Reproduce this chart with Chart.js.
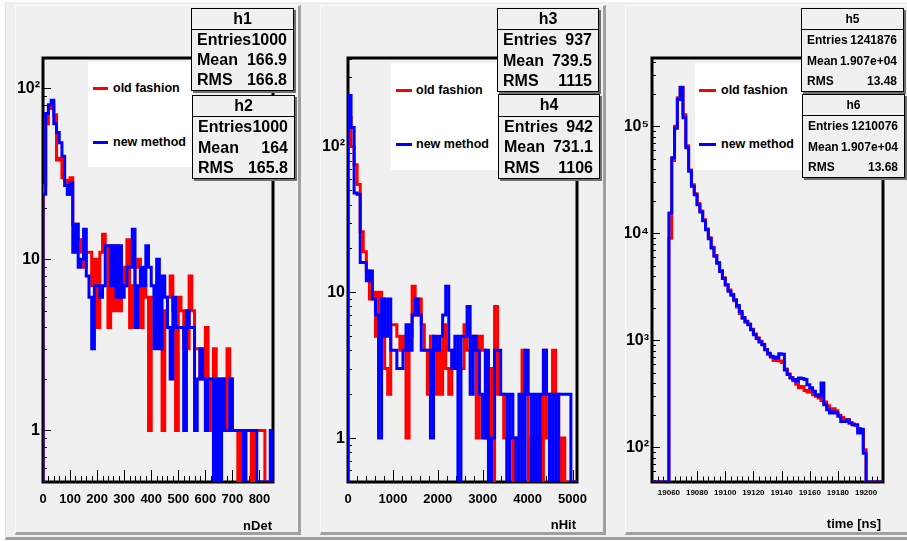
<!DOCTYPE html>
<html lang="en">
<head>
<meta charset="UTF-8">
<title>old fashion vs new method</title>
<script src="https://cdn.jsdelivr.net/npm/chart.js@4"></script>
<style>
    body {
        margin: 0;
        width: 907px;
        height: 541px;
        overflow: hidden;
        position: relative;
        background: #fff;
        font-family: "Liberation Sans", Arial, sans-serif;
        font-weight: bold;
    }
    .outer {
        position: absolute;
        left: 5px; top: 2px;
        width: 910px; height: 538px;
        box-sizing: border-box;
        background: #f0f0f0;
        border-bottom: 3px solid #a0a0a0;
        border-left: 1px solid #e4e4e4;
    }
    .pad {
        position: absolute;
        top: 5px;
        height: 530px;
        box-sizing: border-box;
        background: #f0f0f0;
        border-top: 1px solid #fafafa;
        border-left: 1px solid #fafafa;
        border-right: 3px solid #a0a0a0;
        border-bottom: 3px solid #a0a0a0;
    }
    canvas { position: absolute; top: 0; }
    .legend {
        position: absolute;
        background: #fff;
    }
    .legend .ln {
        position: absolute;
        height: 3px;
    }
    .legend .tx {
        position: absolute;
        font-size: 12.5px;
        line-height: 16px;
        white-space: nowrap;
    }
    .stats {
        position: absolute;
        box-sizing: border-box;
        background: #f0f0f0;
        border: 1px solid #000;
        box-shadow: 2px 2px 0 #707070;
        display: flex;
        flex-direction: column;
        font-size: 16px;
    }
    .stats.small { font-size: 12px; }
    .stats div { flex: 1; display: flex; align-items: center; }
    .stats .t { justify-content: center; border-bottom: 1px solid #000; }
    .stats .r { justify-content: space-between; padding: 0 6px 0 5px; white-space: nowrap; }
    .axtitle {
        position: absolute;
        font-size: 13px;
        line-height: 16px;
        white-space: nowrap;
    }
</style>
</head>
<body>
    <div class="outer"></div>
    <div class="pad" style="left:15px;width:286px"></div>
    <div class="pad" style="left:320px;width:286px"></div>
    <div class="pad" style="left:625px;width:290px"></div>

    <canvas id="cDet" width="286" height="541" style="left:15px"></canvas>
    <canvas id="cHit" width="286" height="541" style="left:320px"></canvas>
    <canvas id="cTime" width="282" height="541" style="left:625px"></canvas>

    <!-- legends -->
    <div class="legend" style="left:88px;top:62px;width:105px;height:105px">
        <div class="ln" style="left:5px;top:25px;width:15px;background:#f00"></div>
        <div class="tx" style="left:25px;top:18px">old fashion</div>
        <div class="ln" style="left:5px;top:79px;width:15px;background:#00f"></div>
        <div class="tx" style="left:25px;top:72px">new method</div>
    </div>
    <div class="legend" style="left:391px;top:63px;width:107px;height:107px">
        <div class="ln" style="left:5px;top:26px;width:16px;background:#f00"></div>
        <div class="tx" style="left:25px;top:19px">old fashion</div>
        <div class="ln" style="left:5px;top:80px;width:16px;background:#00f"></div>
        <div class="tx" style="left:25px;top:73px">new method</div>
    </div>
    <div class="legend" style="left:695px;top:63px;width:107px;height:107px">
        <div class="ln" style="left:4px;top:26px;width:17px;background:#f00"></div>
        <div class="tx" style="left:26px;top:19px">old fashion</div>
        <div class="ln" style="left:4px;top:80px;width:17px;background:#00f"></div>
        <div class="tx" style="left:26px;top:73px">new method</div>
    </div>

    <!-- stat boxes -->
    <div class="stats" style="left:191px;top:8px;width:103px;height:83px">
        <div class="t">h1</div>
        <div class="r"><span>Entries</span><span>1000</span></div>
        <div class="r"><span>Mean</span><span>166.9</span></div>
        <div class="r"><span>RMS</span><span>166.8</span></div>
    </div>
    <div class="stats" style="left:192px;top:95px;width:103px;height:84px">
        <div class="t">h2</div>
        <div class="r"><span>Entries</span><span>1000</span></div>
        <div class="r"><span>Mean</span><span>164</span></div>
        <div class="r"><span>RMS</span><span>165.8</span></div>
    </div>
    <div class="stats" style="left:497px;top:8px;width:102px;height:84px">
        <div class="t">h3</div>
        <div class="r"><span>Entries</span><span>937</span></div>
        <div class="r"><span>Mean</span><span>739.5</span></div>
        <div class="r"><span>RMS</span><span>1115</span></div>
    </div>
    <div class="stats" style="left:498px;top:94px;width:102px;height:85px">
        <div class="t">h4</div>
        <div class="r"><span>Entries</span><span>942</span></div>
        <div class="r"><span>Mean</span><span>731.1</span></div>
        <div class="r"><span>RMS</span><span>1106</span></div>
    </div>
    <div class="stats small" style="left:801px;top:8px;width:103px;height:84px">
        <div class="t">h5</div>
        <div class="r"><span>Entries</span><span>1241876</span></div>
        <div class="r"><span>Mean</span><span>1.907e+04</span></div>
        <div class="r"><span>RMS</span><span>13.48</span></div>
    </div>
    <div class="stats small" style="left:802px;top:94px;width:103px;height:84px">
        <div class="t">h6</div>
        <div class="r"><span>Entries</span><span>1210076</span></div>
        <div class="r"><span>Mean</span><span>1.907e+04</span></div>
        <div class="r"><span>RMS</span><span>13.68</span></div>
    </div>

    <div class="axtitle" style="right:635px;top:518px">nDet</div>
    <div class="axtitle" style="right:331px;top:517px">nHit</div>
    <div class="axtitle" style="right:26px;top:516px">time [ns]</div>

<script>
// ---- nDet histograms (bins of 10, 0..850)
const nDetStart = 0;
const nDetBin = 10;
const nDetOld = [
    27, 62, 76, 80, 70, 38, 39, 30, 29, 24,
    30, 16, 16, 13, 11, 9, 11, 11, 7, 10,
    4, 11, 14, 12, 4, 12, 5, 12, 5, 9,
    7, 13, 4, 7, 9, 10, 4, 7, 6, 1,
    6, 6, 6, 5, 1, 5, 6, 8, 5, 1,
    6, 5, 3, 3, 8, 5, 3, 3, 2, 2,
    4, 2, 1, 3, 2, 1, 2, 1, 3, 2,
    1, 1, 0, 1, 1, 1, 1, 0, 1, 1,
    1, 1, 0, 0, 0
];
const nDetNew = [
    24, 71, 80, 85, 62, 55, 48, 40, 27, 24,
    28, 11, 16, 9, 10, 15, 8, 6, 3, 7,
    7, 6, 7, 12, 12, 7, 12, 6, 12, 6,
    7, 9, 9, 15, 4, 7, 9, 7, 12, 9,
    7, 3, 10, 3, 8, 6, 4, 2, 6, 4,
    4, 4, 1, 5, 4, 4, 1, 2, 3, 2,
    1, 2, 2, 0, 2, 0, 2, 1, 1, 2,
    1, 1, 1, 1, 0, 1, 1, 1, 1, 0,
    0, 0, 0, 0, 1
];

// ---- nHit histograms (bins of 68, 0..5100)
const nHitStart = 0;
const nHitBin = 68;
const nHitOld = [
    158, 100, 75, 55, 26, 19, 14, 9, 10, 5,
    10, 9, 3, 2, 6, 6, 5, 4, 5, 1,
    5, 11, 7, 9, 6, 4, 2, 5, 2, 4,
    2, 6, 3, 2, 4, 3, 3, 3, 6, 4,
    4, 5, 1, 5, 4, 1, 3, 0, 8, 2,
    2, 1, 1, 1, 0, 1, 1, 4, 2, 0,
    1, 0, 1, 0, 4, 1, 2, 4, 2, 0,
    1, 0, 0, 0, 0
];
const nHitNew = [
    224, 135, 48, 47, 16, 16, 12, 14, 9, 7,
    1, 9, 5, 9, 4, 4, 3, 3, 4, 6,
    4, 7, 9, 7, 4, 4, 4, 1, 5, 4,
    5, 7, 11, 4, 3, 5, 0, 5, 5, 8,
    2, 5, 4, 2, 1, 4, 0, 1, 4, 4,
    2, 2, 0, 2, 1, 0, 2, 0, 4, 2,
    0, 2, 0, 2, 4, 2, 0, 2, 0, 2,
    2, 2, 2, 0, 0
];

// ---- time histograms (bins of 2 ns, 19048..19212)
const timeStart = 19048;
const timeBin = 2;
const timeOld = [
    0, 0, 0, 0, 0, 0,
    9000, 48000, 100000, 185000, 232000, 128000, 66000, 39000, 28500, 23500,
    19000, 16200, 13400, 11000, 9100, 7400, 6200, 5350, 4500, 3850,
    3300, 2950, 2700, 2350, 2050, 1780, 1600, 1480, 1420, 1270,
    1150, 1060, 980, 920, 820, 740, 700, 650, 700, 640,
    620, 540, 485, 450, 420, 390, 360, 370, 340, 330,
    345, 310, 300, 290, 275, 265, 245, 225, 230, 220,
    200, 190, 178, 182, 168, 165, 160, 150, 145, 95,
    0, 0, 0, 0, 0, 0
];
const timeNew = [
    0, 0, 0, 0, 0, 0,
    15500, 51000, 96000, 178000, 230000, 120000, 63000, 38000, 27500, 23000,
    18500, 15800, 13100, 10800, 8900, 7300, 6100, 5270, 4410, 3780,
    3310, 2880, 2640, 2400, 2120, 1860, 1640, 1510, 1400, 1255,
    1130, 1040, 965, 910, 818, 760, 710, 690, 684, 750,
    740, 530, 480, 445, 430, 415, 445, 440, 430, 385,
    360, 335, 310, 300, 400, 250, 225, 210, 215, 210,
    195, 175, 175, 180, 170, 163, 163, 136, 148, 88,
    0, 0, 0, 0, 0, 0
];

// ---- tick labels
const nDetTicks = [0, 100, 200, 300, 400, 500, 600, 700, 800];
const nHitTicks = [0, 1000, 2000, 3000, 4000, 5000];
const timeTicks = [19060, 19080, 19100, 19120, 19140, 19160, 19180, 19200];
const countTicksLow = [1, 10, 100];
const countTicksHigh = [100, 1000, 10000, 100000];

const SUP = ['\u2070', '\u00b9', '\u00b2', '\u00b3', '\u2074', '\u2075', '\u2076'];
function powLabel(v) {
    const e = Math.round(Math.log10(v));
    if (e === 0) return '1';
    if (e === 1) return '10';
    return '10' + SUP[e];
}

// bin contents -> closed step outline, empty bins sit on the axis floor
function histPoints(vals, start, width, floor) {
    const pts = [];
    let prev = floor;
    for (let i = 0; i <= vals.length; i++) {
        const x = start + i * width;
        const v = i < vals.length && vals[i] > 0 ? vals[i] : floor;
        pts.push({ x: x, y: prev }, { x: x, y: v });
        prev = v;
    }
    return pts;
}

// ROOT style frame with ticks drawn inside
const rootFrame = {
    id: 'rootFrame',
    beforeDatasetsDraw(chart, args, o) {
        const { ctx, chartArea: a } = chart;
        const xs = chart.scales.x, ys = chart.scales.y;
        ctx.save();
        ctx.strokeStyle = '#000';
        ctx.lineWidth = 1;
        ctx.beginPath();
        const first = Math.ceil(xs.min / o.xMinor - 1e-9) * o.xMinor;
        for (let v = first; v <= xs.max + 1e-9; v += o.xMinor) {
            const px = Math.round(xs.getPixelForValue(v)) + 0.5;
            const r = v / o.xMajor;
            const len = Math.abs(r - Math.round(r)) < 1e-6 ? o.xLen : o.xLen / 2;
            ctx.moveTo(px, a.bottom);
            ctx.lineTo(px, a.bottom - len);
        }
        const e0 = Math.floor(Math.log10(ys.min)), e1 = Math.ceil(Math.log10(ys.max));
        for (let e = e0; e <= e1; e++) {
            for (let m = 1; m <= 9; m++) {
                const v = m * Math.pow(10, e);
                if (v < ys.min || v > ys.max) continue;
                const py = Math.round(ys.getPixelForValue(v)) + 0.5;
                ctx.moveTo(a.left, py);
                ctx.lineTo(a.left + (m === 1 ? 8 : 4), py);
            }
        }
        ctx.stroke();
        ctx.lineWidth = 3;
        ctx.strokeRect(a.left, a.top, a.right - a.left, a.bottom - a.top);
        ctx.restore();
    }
};

function makeChart(id, c) {
    const font = 'Liberation Sans, Arial, sans-serif';
    return new Chart(document.getElementById(id), {
        type: 'line',
        data: {
            datasets: [
                {
                    label: 'new method',
                    data: histPoints(c.newVals, c.start, c.bin, c.yMin),
                    borderColor: '#0000ff',
                    borderWidth: 3,
                    pointRadius: 0,
                    fill: false,
                    order: 0
                },
                {
                    label: 'old fashion',
                    data: histPoints(c.oldVals, c.start, c.bin, c.yMin),
                    borderColor: '#ff0000',
                    borderWidth: 3,
                    pointRadius: 0,
                    fill: false,
                    order: 1
                }
            ]
        },
        options: {
            responsive: false,
            animation: false,
            events: [],
            layout: { padding: { left: 0, top: 58, right: c.padRight, bottom: 0 } },
            plugins: {
                legend: { display: false },
                tooltip: { enabled: false },
                rootFrame: { xMajor: c.xMajor, xMinor: c.xMinor, xLen: c.xLen }
            },
            scales: {
                x: {
                    type: 'linear',
                    min: c.xMin,
                    max: c.xMax,
                    grid: { display: false, drawTicks: false },
                    border: { display: false },
                    afterBuildTicks: s => { s.ticks = c.xTicks.map(v => ({ value: v })); },
                    afterFit: s => { s.height = 59; },
                    ticks: {
                        autoSkip: false,
                        maxRotation: 0,
                        padding: c.xPad,
                        color: '#000',
                        font: { family: font, size: c.xFont, weight: 'bold' },
                        callback: v => String(v)
                    }
                },
                y: {
                    type: 'logarithmic',
                    min: c.yMin,
                    max: c.yMax,
                    grid: { display: false, drawTicks: false },
                    border: { display: false },
                    afterBuildTicks: s => { s.ticks = c.yTicks.map(v => ({ value: v })); },
                    afterFit: s => { s.width = c.yWidth; },
                    ticks: {
                        autoSkip: false,
                        padding: 3,
                        color: '#000',
                        font: { family: font, size: 16, weight: 'bold' },
                        callback: v => powLabel(v)
                    }
                }
            }
        },
        plugins: [rootFrame]
    });
}

makeChart('cDet', {
    oldVals: nDetOld, newVals: nDetNew, start: nDetStart, bin: nDetBin,
    xMin: 0, xMax: 850, xTicks: nDetTicks, xMajor: 100, xMinor: 20, xLen: 12,
    xFont: 13, xPad: 10,
    yMin: 0.5, yMax: 150, yTicks: countTicksLow,
    yWidth: 28, padRight: 28
});

makeChart('cHit', {
    oldVals: nHitOld, newVals: nHitNew, start: nHitStart, bin: nHitBin,
    xMin: 0, xMax: 5100, xTicks: nHitTicks, xMajor: 1000, xMinor: 200, xLen: 12,
    xFont: 13, xPad: 10,
    yMin: 0.5, yMax: 405, yTicks: countTicksLow,
    yWidth: 28, padRight: 29
});

makeChart('cTime', {
    oldVals: timeOld, newVals: timeNew, start: timeStart, bin: timeBin,
    xMin: 19048, xMax: 19212, xTicks: timeTicks, xMajor: 20, xMinor: 4, xLen: 11,
    xFont: 8, xPad: 6,
    yMin: 47.5, yMax: 435000, yTicks: countTicksHigh,
    yWidth: 27, padRight: 24
});
</script>
</body>
</html>
